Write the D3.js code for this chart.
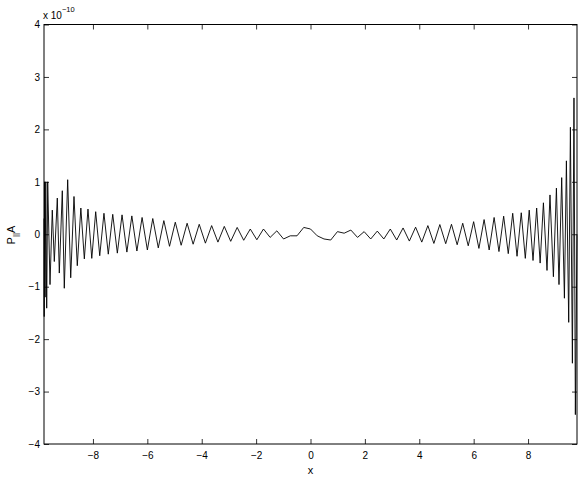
<!DOCTYPE html>
<html>
<head>
<meta charset="utf-8">
<script src="https://cdn.jsdelivr.net/npm/d3@7"></script>
<style>
  html, body { margin: 0; padding: 0; background: #fff; }
  svg { display: block; font-family: "Liberation Sans", Arial, Helvetica, sans-serif; }
</style>
</head>
<body>
<svg id="chart" width="581" height="479"></svg>
<script>
// x positions of the samples
const xValues = [
  -9.800, -9.792, -9.780, -9.760, -9.735, -9.701, -9.664, -9.579, -9.495, -9.421,
  -9.311, -9.237, -9.127, -9.054, -8.929, -8.818, -8.697, -8.576, -8.445, -8.317,
  -8.183, -8.043, -7.899, -7.750, -7.595, -7.436, -7.272, -7.103, -6.930, -6.752,
  -6.570, -6.384, -6.193, -5.999, -5.800, -5.598, -5.393, -5.184, -4.972, -4.756,
  -4.537, -4.316, -4.092, -3.865, -3.635, -3.404, -3.170, -2.934, -2.696, -2.456,
  -2.215, -1.973, -1.729, -1.484, -1.238, -0.991, -0.744, -0.496, -0.248, 0.000,
   0.248,  0.496,  0.744,  0.991,  1.238,  1.484,  1.729,  1.973,  2.215,  2.456,
   2.696,  2.934,  3.170,  3.404,  3.635,  3.865,  4.092,  4.316,  4.537,  4.756,
   4.972,  5.184,  5.393,  5.598,  5.800,  5.999,  6.193,  6.384,  6.570,  6.752,
   6.930,  7.103,  7.272,  7.436,  7.595,  7.750,  7.899,  8.043,  8.183,  8.317,
   8.445,  8.565,  8.697,  8.807,  8.932,  9.043,  9.138,  9.237,  9.337,  9.410,
   9.495,  9.557,  9.631,  9.689,  9.740,  9.800
];
// P_||A values, in units of 1e-10
const yValues = [
   0.30, -1.57,  1.00, -1.20,  1.00, -1.41,  1.00, -0.96,  0.46, -0.52,
   0.69, -0.74,  0.83, -1.03,  1.04, -0.83,  0.72, -0.60,  0.50, -0.47,
   0.48, -0.46,  0.43, -0.41,  0.40, -0.38,  0.38, -0.36,  0.37, -0.34,
   0.35, -0.32,  0.32, -0.30,  0.30, -0.26,  0.26, -0.23,  0.23, -0.21,
   0.21, -0.19,  0.19, -0.17,  0.165, -0.15, 0.15, -0.135, 0.13, -0.115,
   0.10, -0.105, 0.10, -0.06,  0.065, -0.09, -0.03, -0.03,  0.13,  0.10,
  -0.03, -0.09, -0.11,  0.05,  0.02,  0.08, -0.06,  0.05, -0.09,  0.06,
  -0.09,  0.10, -0.11,  0.12, -0.13,  0.135, -0.15, 0.165, -0.175, 0.185,
  -0.18,  0.19, -0.20,  0.21, -0.22,  0.24, -0.27,  0.28, -0.30,  0.32,
  -0.33,  0.345, -0.37, 0.40, -0.42,  0.41, -0.46,  0.46, -0.50,  0.50,
  -0.55,  0.60, -0.69,  0.75, -0.81,  0.88, -0.96,  1.08, -1.22,  1.40,
  -1.68,  2.04, -2.46,  2.60, -3.44,  0.00
];
const xTicks = [-8, -6, -4, -2, 0, 2, 4, 6, 8];
const yTicks = [-4, -3, -2, -1, 0, 1, 2, 3, 4];
const xDomain = [-9.8, 9.8];
const yDomain = [-4, 4];

const svg = d3.select("#chart");
const L = 44, R = 577, T = 24.5, B = 444;

const x = d3.scaleLinear().domain(xDomain).range([L, R]);
const y = d3.scaleLinear().domain(yDomain).range([B, T]);

const data = xValues.map((v, i) => ({ x: v, v: yValues[i] }));

// data line
svg.append("path")
  .datum(data)
  .attr("fill", "none")
  .attr("stroke", "#000")
  .attr("stroke-width", 0.9)
  .attr("stroke-linejoin", "miter")
  .attr("d", d3.line().x(d => x(d.x)).y(d => y(d.v)));

function styleAxis(g) {
  g.select(".domain").remove();
  g.selectAll(".tick line").attr("stroke", "#000").attr("stroke-width", 0.8);
  g.selectAll(".tick text").attr("fill", "#000").style("font-size", "10px")
    .style("font-family", '"Liberation Sans", Arial, Helvetica, sans-serif');
}

svg.append("g").attr("transform", `translate(0,${B})`)
  .call(d3.axisBottom(x).tickValues(xTicks).tickSize(-5).tickPadding(8).tickFormat(d3.format("d")))
  .call(styleAxis);
svg.append("g").attr("transform", `translate(0,${T})`)
  .call(d3.axisTop(x).tickValues(xTicks).tickSize(-5).tickFormat(""))
  .call(styleAxis);
svg.append("g").attr("transform", `translate(${L},0)`)
  .call(d3.axisLeft(y).tickValues(yTicks).tickSize(-5).tickPadding(4).tickFormat(d3.format("d")))
  .call(styleAxis);
svg.append("g").attr("transform", `translate(${R},0)`)
  .call(d3.axisRight(y).tickValues(yTicks).tickSize(-5).tickFormat(""))
  .call(styleAxis);

// box
svg.append("rect")
  .attr("x", L).attr("y", T).attr("width", R - L).attr("height", B - T)
  .attr("fill", "none").attr("stroke", "#000").attr("stroke-width", 1);

// exponent label
const ex = svg.append("text").attr("x", 43).attr("y", 18.5)
  .style("font-size", "10px").attr("fill", "#000");
ex.append("tspan").text("x 10");
ex.append("tspan").attr("dy", -7).style("font-size", "7.5px").text("\u221210");

// x label
svg.append("text").attr("x", 310.5).attr("y", 473.5)
  .attr("text-anchor", "middle").style("font-size", "11px").attr("fill", "#000").text("x");

// y label
const yl = svg.append("text")
  .attr("transform", "translate(15,235) rotate(-90)")
  .attr("text-anchor", "middle").style("font-size", "11px").attr("fill", "#000");
yl.append("tspan").text("P");
yl.append("tspan").attr("dy", 3).style("font-size", "8px").text("||");
yl.append("tspan").attr("dy", -3).text("A");
</script>
</body>
</html>
